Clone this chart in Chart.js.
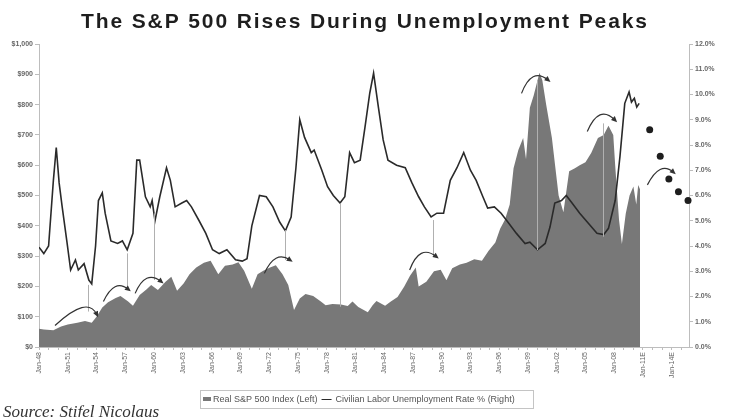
<!DOCTYPE html>
<html>
<head>
<meta charset="utf-8">
<script src="https://cdn.jsdelivr.net/npm/chart.js"></script>
<style>
  body { margin: 0; background: #fff; }
  canvas { display: block; }
</style>
</head>
<body>
<canvas id="chart" width="730" height="417"></canvas>
<script>
// chart text
const chartTitle   = 'The S&P 500 Rises During Unemployment Peaks';
const sourceNote   = 'Source: Stifel Nicolaus';
const legendLabels = ['Real S&P 500 Index (Left)', 'Civilian Labor Unemployment Rate % (Right)'];

// real S&P 500 index (left axis, $)
const spxYears = [
  1948.0, 1948.5, 1949.5, 1950.3, 1951.0, 1952.0, 1952.8, 1953.5, 1954.0, 1954.6,
  1955.2, 1956.0, 1956.5, 1957.3, 1957.8, 1958.5, 1959.2, 1959.7, 1960.4, 1961.2,
  1961.8, 1962.4, 1963.1, 1963.7, 1964.4, 1965.2, 1965.9, 1966.7, 1967.4, 1968.2,
  1968.8, 1969.4, 1970.2, 1970.8, 1971.4, 1972.1, 1972.7, 1973.4, 1974.0, 1974.6,
  1975.2, 1975.8, 1976.6, 1977.4, 1977.9, 1978.6, 1979.5, 1980.2, 1980.7, 1981.3,
  1982.3, 1982.8, 1983.2, 1984.1, 1984.7, 1985.4, 1986.1, 1986.7, 1987.3, 1987.6,
  1988.4, 1989.2, 1989.9, 1990.5, 1991.1, 1991.9, 1992.6, 1993.4, 1994.2, 1994.9,
  1995.6, 1996.1, 1996.6, 1997.1, 1997.5, 1998.0, 1998.5, 1998.8, 1999.2, 1999.6,
  2000.2, 2000.5, 2000.9, 2001.5, 2002.2, 2002.7, 2003.3, 2003.9, 2004.4, 2005.0,
  2005.6, 2006.3, 2006.9, 2007.4, 2007.9, 2008.1, 2008.5, 2008.8, 2009.2, 2009.6,
  2010.0, 2010.3, 2010.5, 2010.7
];
const spxValues = [
  60, 58, 55, 68, 74, 80, 86, 80, 100, 130,
  148, 162, 168, 150, 136, 172, 190, 205, 188, 215,
  232, 186, 210, 240, 262, 278, 285, 240, 268, 272,
  280, 252, 192, 240, 252, 262, 270, 240, 205, 122,
  160, 175, 168, 150, 138, 142, 140, 135, 150, 132,
  115, 138, 152, 136, 150, 165, 200, 235, 262, 200,
  215, 250, 255, 220, 260, 272, 278, 290, 285, 318,
  345, 390, 420, 470, 590, 650, 690, 620, 790, 830,
  905, 880, 800, 690, 500, 445, 580, 590, 600, 610,
  640, 690, 700, 730, 700, 600, 420, 340, 440, 500,
  530, 470, 535, 520
];

// civilian unemployment rate (right axis, %)
const unempYears = [
  1948.0, 1948.5, 1949.0, 1949.5, 1949.8, 1950.1, 1950.4, 1950.9, 1951.3, 1951.8,
  1952.1, 1952.7, 1953.2, 1953.5, 1953.9, 1954.2, 1954.6, 1954.9, 1955.5, 1956.2,
  1956.7, 1957.2, 1957.8, 1958.2, 1958.5, 1959.1, 1959.6, 1959.8, 1960.1, 1960.6,
  1961.3, 1961.7, 1962.2, 1962.9, 1963.4, 1963.9, 1964.7, 1965.4, 1966.1, 1966.8,
  1967.6, 1968.5, 1969.2, 1969.7, 1970.2, 1971.0, 1971.7, 1972.4, 1973.1, 1973.7,
  1974.3, 1974.8, 1975.2, 1975.7, 1976.4, 1976.7, 1977.5, 1978.1, 1978.7, 1979.4,
  1979.9, 1980.4, 1980.9, 1981.5, 1982.0, 1982.5, 1982.9, 1983.4, 1983.9, 1984.4,
  1985.3, 1986.2, 1986.9, 1987.6, 1988.2, 1988.9, 1989.5, 1990.2, 1990.9, 1991.6,
  1992.3, 1993.0, 1993.6, 1994.3, 1994.8, 1995.5, 1996.2, 1996.9, 1997.8, 1998.7,
  1999.2, 2000.0, 2000.8, 2001.3, 2001.8, 2002.5, 2003.0, 2003.6, 2004.4, 2005.3,
  2006.2, 2006.9, 2007.4, 2008.1, 2008.6, 2009.1, 2009.55, 2009.8, 2010.1, 2010.35,
  2010.6
];
const unempValues = [
  3.95, 3.7, 4.0, 6.6, 7.9, 6.5, 5.6, 4.2, 3.05, 3.45,
  3.05, 3.3, 2.65, 2.5, 4.0, 5.8, 6.1, 5.3, 4.2, 4.1,
  4.2, 3.85, 4.5, 7.4, 7.4, 5.95, 5.55, 5.8, 5.0, 5.95,
  7.1, 6.6, 5.55, 5.7, 5.8, 5.55, 5.0, 4.5, 3.85, 3.7,
  3.85, 3.45, 3.4, 3.5, 4.8, 6.0, 5.95, 5.55, 4.95, 4.6,
  5.15, 7.1, 9.0, 8.3, 7.7, 7.8, 7.0, 6.35, 6.0, 5.7,
  5.95, 7.7, 7.3, 7.4, 8.7, 10.05, 10.85, 9.5, 8.2, 7.4,
  7.2, 7.1, 6.5, 5.95, 5.55, 5.15, 5.3, 5.3, 6.6, 7.1,
  7.7, 7.0, 6.6, 5.95, 5.5, 5.55, 5.3, 4.95, 4.5, 4.1,
  4.15, 3.85, 4.1, 4.75, 5.7, 5.8, 6.0, 5.7, 5.3, 4.9,
  4.5, 4.45, 4.7, 5.8, 7.55, 9.65, 10.1, 9.7, 9.85, 9.5,
  9.65
];

// year-end unemployment estimates (dots)
const forecastYears  = [2011.7, 2012.8, 2013.7, 2014.7, 2015.7];
const forecastValues = [8.6, 7.55, 6.65, 6.15, 5.8];

// axis ticks
const yearTicks  = Array.from({ length: 68 }, (_, i) => 1948 + i);
const labelEvery = 3;
const estimateFrom = 2011;

// annotations: curved arrows (start, top of bend, head) in [year, $]
const arrows = [
  [[1949.67, 71],  [1952.46, 130], [1954.03, 107]],
  [[1954.72, 150], [1955.94, 199], [1957.33, 190]],
  [[1958.03, 177], [1959.25, 227], [1960.75, 216]],
  [[1971.51, 243], [1972.73, 293], [1974.2, 287]],
  [[1986.66, 254], [1987.88, 309], [1989.45, 298]],
  [[1998.33, 837], [1999.55, 892], [2001.11, 881]],
  [[2005.19, 711], [2006.52, 766], [2008.08, 749]],
  [[2011.46, 535], [2012.79, 586], [2014.18, 577]]
];
// thin drop lines: [year, top $, bottom $]
const dropLines = [
  [1953.15, 205, 117], [1957.16, 309, 188], [1959.99, 441, 221],
  [1973.7, 386, 287], [1979.35, 474, 133], [1989.1, 419, 298],
  [1999.9, 320, 881], [2006.86, 364, 738]
];

const AREA_GRAY = '#787878';
const LINE_DARK = '#2a2a2a';
const AXIS_GRAY = '#bdbdbd';
const TEXT_GRAY = '#666';
const FONT = '"Liberation Sans", Arial, sans-serif';

const toPoints = (xs, ys) => xs.map((x, i) => ({ x, y: ys[i] }));

const decorPlugin = {
  id: 'decor',
  afterDatasetsDraw(chart) {
    const { ctx, scales: { x, y } } = chart;
    ctx.save();

    // drop lines
    ctx.strokeStyle = '#b0b0b0';
    ctx.lineWidth = 1;
    dropLines.forEach(([yr, a, b]) => {
      const px = Math.round(x.getPixelForValue(yr)) + 0.5;
      ctx.beginPath();
      ctx.moveTo(px, y.getPixelForValue(a));
      ctx.lineTo(px, y.getPixelForValue(b));
      ctx.stroke();
    });

    // curved arrows
    ctx.strokeStyle = '#333';
    ctx.fillStyle = '#333';
    ctx.lineWidth = 1.2;
    arrows.forEach(([s, m, e]) => {
      const sx = x.getPixelForValue(s[0]), sy = y.getPixelForValue(s[1]);
      const mx = x.getPixelForValue(m[0]), my = y.getPixelForValue(m[1]);
      const ex = x.getPixelForValue(e[0]), ey = y.getPixelForValue(e[1]);
      const cx = 2 * mx - (sx + ex) / 2, cy = 2 * my - (sy + ey) / 2;
      ctx.beginPath();
      ctx.moveTo(sx, sy);
      ctx.quadraticCurveTo(cx, cy, ex, ey);
      ctx.stroke();
      const ang = Math.atan2(ey - cy, ex - cx);
      ctx.beginPath();
      ctx.moveTo(ex + 3 * Math.cos(ang), ey + 3 * Math.sin(ang));
      ctx.lineTo(ex + 4 * Math.cos(ang + 2.4), ey + 4 * Math.sin(ang + 2.4));
      ctx.lineTo(ex + 4 * Math.cos(ang - 2.4), ey + 4 * Math.sin(ang - 2.4));
      ctx.closePath();
      ctx.fill();
    });
    ctx.restore();
  },
  afterDraw(chart) {
    const { ctx } = chart;
    ctx.save();

    // title, stretched to the reference width
    ctx.font = `bold 21px ${FONT}`;
    ctx.fillStyle = '#1e1e1e';
    ctx.textBaseline = 'alphabetic';
    const w = ctx.measureText(chartTitle).width;
    const spacing = Math.max(0, (566 - w) / (chartTitle.length - 1));
    ctx.letterSpacing = spacing + 'px';
    ctx.textAlign = 'left';
    ctx.fillText(chartTitle, 81, 28);
    ctx.letterSpacing = '0px';

    // legend box
    ctx.strokeStyle = '#c4c4c4';
    ctx.lineWidth = 1;
    ctx.strokeRect(200.5, 390.5, 333, 18);
    ctx.fillStyle = AREA_GRAY;
    ctx.fillRect(203, 397, 8, 4);
    ctx.font = `9px ${FONT}`;
    ctx.fillStyle = '#555';
    ctx.textBaseline = 'middle';
    ctx.fillText(legendLabels[0], 213, 399.5);
    const l1 = 213 + ctx.measureText(legendLabels[0]).width + 4;
    ctx.strokeStyle = LINE_DARK;
    ctx.beginPath();
    ctx.moveTo(l1, 399.5);
    ctx.lineTo(l1 + 10, 399.5);
    ctx.stroke();
    ctx.fillText(legendLabels[1], l1 + 14, 399.5);

    // source
    ctx.font = 'italic 17px "Liberation Serif", "Times New Roman", serif';
    ctx.fillStyle = '#333';
    ctx.textBaseline = 'alphabetic';
    ctx.fillText(sourceNote, 3, 417);
    ctx.restore();
  }
};

new Chart(document.getElementById('chart'), {
  data: {
    datasets: [
      {
        type: 'line',
        label: legendLabels[1],
        data: toPoints(unempYears, unempValues),
        yAxisID: 'y1',
        borderColor: LINE_DARK,
        borderWidth: 1.6,
        pointRadius: 0,
        fill: false,
        tension: 0,
        order: 1
      },
      {
        type: 'line',
        label: 'Estimate',
        data: toPoints(forecastYears, forecastValues),
        yAxisID: 'y1',
        showLine: false,
        pointRadius: 3.5,
        pointBackgroundColor: '#1e1e1e',
        pointBorderWidth: 0,
        clip: false,
        order: 0
      },
      {
        type: 'line',
        label: legendLabels[0],
        data: toPoints(spxYears, spxValues),
        yAxisID: 'y',
        backgroundColor: AREA_GRAY,
        borderWidth: 0,
        pointRadius: 0,
        fill: 'origin',
        tension: 0,
        order: 2
      }
    ]
  },
  options: {
    responsive: false,
    devicePixelRatio: 1,
    animation: false,
    layout: { padding: { top: 44, left: 0, right: 0, bottom: 0 } },
    plugins: { legend: { display: false }, tooltip: { enabled: false } },
    scales: {
      x: {
        type: 'linear',
        min: 1948,
        max: 2015.8,
        afterBuildTicks: scale => { scale.ticks = yearTicks.map(v => ({ value: v })); },
        afterFit: scale => { scale.height = 70; },
        grid: { drawOnChartArea: false, tickLength: 3, color: AXIS_GRAY },
        border: { color: AXIS_GRAY },
        ticks: {
          autoSkip: false,
          maxRotation: 90,
          minRotation: 90,
          padding: 2,
          color: TEXT_GRAY,
          font: { size: 7, family: FONT },
          callback: v => ((v - 1948) % labelEvery === 0
            ? 'Jan-' + String(v).slice(2) + (v >= estimateFrom ? 'E' : '')
            : '')
        }
      },
      y: {
        position: 'left',
        min: 0,
        max: 1000,
        afterFit: scale => { scale.width = 39; },
        grid: { drawOnChartArea: false, tickLength: 4, color: AXIS_GRAY },
        border: { color: AXIS_GRAY },
        ticks: {
          stepSize: 100,
          padding: 2,
          color: TEXT_GRAY,
          font: { size: 7, weight: 'bold', family: FONT },
          callback: v => '$' + v.toLocaleString('en-US')
        }
      },
      y1: {
        position: 'right',
        min: 0,
        max: 12,
        afterFit: scale => { scale.width = 41; },
        grid: { drawOnChartArea: false, tickLength: 4, color: AXIS_GRAY },
        border: { color: AXIS_GRAY },
        ticks: {
          stepSize: 1,
          padding: 2,
          color: TEXT_GRAY,
          font: { size: 7, weight: 'bold', family: FONT },
          callback: v => v.toFixed(1) + '%'
        }
      }
    }
  },
  plugins: [decorPlugin]
});
</script>
</body>
</html>
